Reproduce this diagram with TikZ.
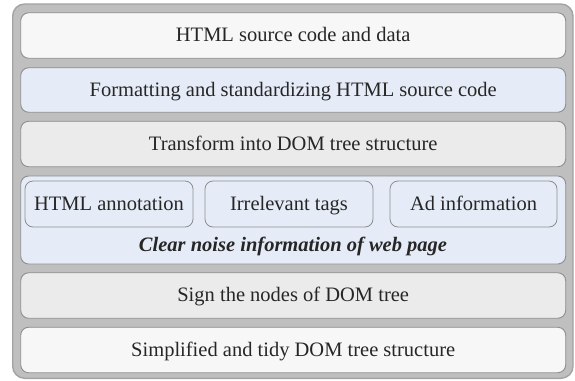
\documentclass[tikz,border=0pt]{standalone}
\usepackage{fontspec}
\setmainfont{Liberation Serif}
\definecolor{frameFill}{HTML}{BFBFBF}
\definecolor{frameLine}{HTML}{A3A3A3}
\definecolor{boxLine}{HTML}{8E8E8E}
\definecolor{paleWhite}{HTML}{F7F7F7}
\definecolor{paleGray}{HTML}{EBEBEB}
\definecolor{paleBlue}{HTML}{E6ECF7}
\tikzset{
  label font/.style={font=\fontsize{20.5}{24}\selectfont, text=black!85,
    text height=15pt, text depth=3pt},
  layer/.style={draw=boxLine, line width=0.9pt, rounded corners=8pt,
    minimum width=545pt, minimum height=45.5pt, inner sep=0pt, label font},
  subbox/.style={draw=boxLine, line width=0.8pt, rounded corners=8pt,
    fill=paleBlue, minimum height=46pt, inner sep=0pt, label font}
}
\begin{document}
\begin{tikzpicture}[x=1pt,y=-1pt]
\useasboundingbox (0,0) rectangle (575,380);
% surrounding frame
\draw[fill=frameFill, draw=frameLine, line width=1.4pt, rounded corners=12pt]
  (12.7,4) rectangle (573,378.3);
% processing layers
\node[layer, fill=paleWhite] (src) at (293.2,35.5) {HTML source code and data};
\node[layer, fill=paleBlue, minimum height=44.5pt] (fmt) at (293.2,90) {Formatting and standardizing HTML source code};
\node[layer, fill=paleGray] (dom) at (293.2,144) {Transform into DOM tree structure};
\node[layer, fill=paleBlue, minimum height=88pt] (clr) at (293.2,220) {};
\node[subbox, minimum width=168pt] (ann) at (109,204) {HTML annotation};
\node[subbox, minimum width=168pt] (irr) at (289,204) {Irrelevant tags};
\node[subbox, minimum width=167pt] (ad) at (473.5,204) {Ad information};
\node[label font, font=\fontsize{20.5}{24}\selectfont\bfseries\itshape, inner sep=0pt] (clrtxt) at (293,245.7)
  {Clear noise information of web page};
\node[layer, fill=paleGray] (sign) at (293.2,295.5) {Sign the nodes of DOM tree};
\node[layer, fill=paleWhite] (tidy) at (293.2,350) {Simplified and tidy DOM tree structure};
\end{tikzpicture}
\end{document}
